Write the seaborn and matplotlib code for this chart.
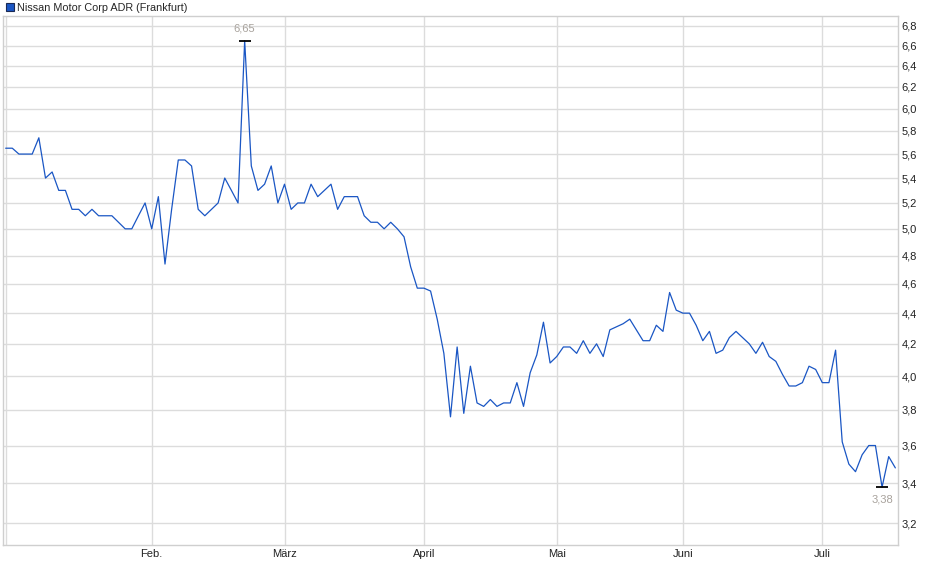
import numpy as np
import pandas as pd
import seaborn as sns
from matplotlib import pyplot as plt
from matplotlib.lines import Line2D
from matplotlib.ticker import FixedLocator, NullLocator

sns.set_style('white')
plt.rcParams['font.family'] = ['Liberation Sans', 'DejaVu Sans']

# daily closes, Jan..Jul (trading days only)
prices_jan = [5.65, 5.65, 5.6, 5.6, 5.6, 5.74, 5.4, 5.45, 5.3, 5.3, 5.15, 5.15,
              5.1, 5.15, 5.1, 5.1, 5.1, 5.05, 5.0, 5.0, 5.1, 5.2]
prices_feb = [5.0, 5.25, 4.74, 5.15, 5.55, 5.55, 5.5, 5.15, 5.1, 5.15, 5.2, 5.4,
              5.3, 5.2, 6.65, 5.5, 5.3, 5.35, 5.5, 5.2]
prices_mar = [5.35, 5.15, 5.2, 5.2, 5.35, 5.25, 5.3, 5.35, 5.15, 5.25, 5.25, 5.25,
              5.1, 5.05, 5.05, 5.0, 5.05, 5.0, 4.94, 4.72, 4.57]
prices_apr = [4.57, 4.55, 4.36, 4.14, 3.76, 4.18, 3.78, 4.06, 3.84, 3.82, 3.86, 3.82,
              3.84, 3.84, 3.96, 3.82, 4.02, 4.13, 4.34, 4.08]
prices_may = [4.12, 4.18, 4.18, 4.14, 4.22, 4.14, 4.2, 4.12, 4.29, 4.31, 4.33, 4.36,
              4.29, 4.22, 4.22, 4.32, 4.28, 4.54, 4.42]
prices_jun = [4.4, 4.4, 4.32, 4.22, 4.28, 4.14, 4.16, 4.24, 4.28, 4.24, 4.2, 4.14,
              4.21, 4.12, 4.09, 4.01, 3.94, 3.94, 3.96, 4.06, 4.04]
prices_jul = [3.96, 3.96, 4.16, 3.62, 3.5, 3.46, 3.55, 3.6, 3.6, 3.38, 3.54, 3.48]

month_labels = ['', 'Feb.', 'März', 'April', 'Mai', 'Juni', 'Juli']
y_ticks = [3.2, 3.4, 3.6, 3.8, 4.0, 4.2, 4.4, 4.6, 4.8, 5.0, 5.2, 5.4, 5.6, 5.8,
           6.0, 6.2, 6.4, 6.6, 6.8]
title = 'Nissan Motor Corp ADR (Frankfurt)'

months = [prices_jan, prices_feb, prices_mar, prices_apr, prices_may, prices_jun, prices_jul]
prices = sum(months, [])
df = pd.DataFrame({'t': np.arange(len(prices)), 'price': prices})
month_start = np.cumsum([0] + [len(m) for m in months[:-1]])

blue = '#1a56c4'
grid = '#dcdcdc'

fig = plt.figure(figsize=(9.4, 5.79), dpi=100)
ax = fig.add_axes([0.0029, 0.0587, 0.9527, 0.9137])

sns.lineplot(data=df, x='t', y='price', color=blue, linewidth=0.9, ax=ax)

ax.set_yscale('log')
ax.set_ylim(3.096, 6.904)
ax.set_xlim(-0.44, len(prices) - 1 + 0.44)

ax.yaxis.set_major_locator(FixedLocator(y_ticks))
ax.yaxis.set_minor_locator(NullLocator())
ax.set_yticklabels([f'{v:.1f}'.replace('.', ',') for v in y_ticks])
ax.yaxis.tick_right()
ax.set_xticks(month_start)
ax.set_xticklabels(month_labels)
ax.tick_params(axis='both', length=0, labelsize=8, colors='#222222')
ax.tick_params(axis='y', pad=2.5)
ax.tick_params(axis='x', pad=3)
ax.set_xlabel('')
ax.set_ylabel('')
ax.grid(True, color=grid, linewidth=1)
for s in ax.spines.values():
    s.set_color('#cfcfcf')
    s.set_linewidth(1)

# high / low markers
hi = df['price'].idxmax()
lo = df['price'].idxmin()
for idx, dy, va in [(hi, 5, 'bottom'), (lo, -5, 'top')]:
    v = df.loc[idx, 'price']
    ax.plot([idx], [v], marker='_', markersize=9, mew=1.3, color='black')
    ax.annotate(f'{v:.2f}'.replace('.', ','), (idx, v), xytext=(0, dy),
                textcoords='offset points', ha='center', va=va,
                fontsize=8, color='#a8a29c')

handle = Line2D([], [], marker='s', linestyle='None', markersize=6,
                markerfacecolor=blue, markeredgecolor='#1a2a55', markeredgewidth=0.8)
ax.legend([handle], [title], loc='lower left', bbox_to_anchor=(0.0, 1.0),
          frameon=False, borderpad=0, borderaxespad=0.3, handlelength=0.7,
          handletextpad=0.35, fontsize=7.8)

fig.savefig('out.png', dpi=100)
